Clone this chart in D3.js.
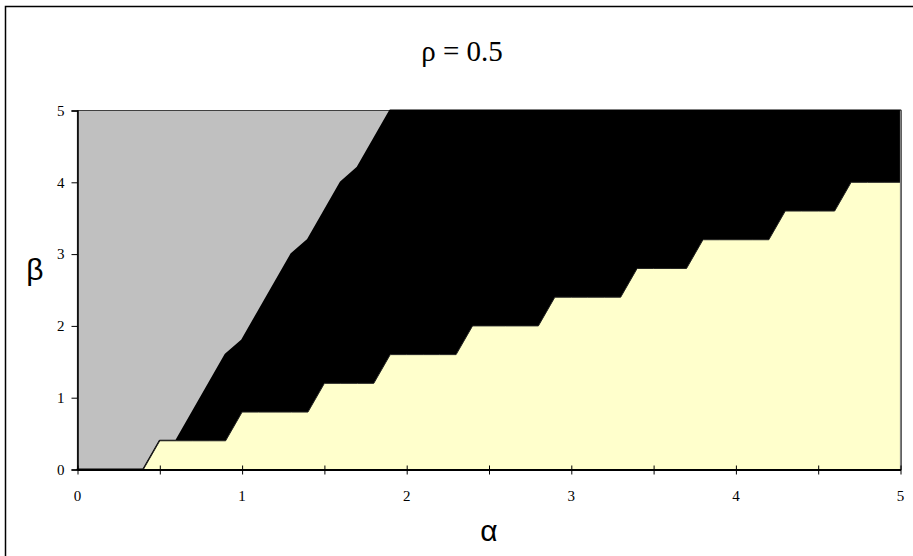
<!DOCTYPE html>
<html>
<head>
<meta charset="utf-8">
<script src="https://cdn.jsdelivr.net/npm/d3@7"></script>
<style>
  html, body { margin: 0; padding: 0; background: #fff; }
  svg { display: block; }
  .serif { font-family: "Liberation Serif", "Times New Roman", Times, serif; }
  .sans { font-family: "Liberation Sans", Arial, sans-serif; }
</style>
</head>
<body>
<svg id="chart" width="913" height="556"></svg>
<script>
// ---- data ----
const alphaValues = [0.0,0.1,0.2,0.3,0.4,0.5,0.6,0.7,0.8,0.9,
                     1.0,1.1,1.2,1.3,1.4,1.5,1.6,1.7,1.8,1.9,
                     2.0,2.1,2.2,2.3,2.4,2.5,2.6,2.7,2.8,2.9,
                     3.0,3.1,3.2,3.3,3.4,3.5,3.6,3.7,3.8,3.9,
                     4.0,4.1,4.2,4.3,4.4,4.5,4.6,4.7,4.8,4.9,5.0];
const greyValues = [5,5,5,5,5,5,5,5,5,5,
                    5,5,5,5,5,5,5,5,5,5,
                    5,5,5,5,5,5,5,5,5,5,
                    5,5,5,5,5,5,5,5,5,5,
                    5,5,5,5,5,5,5,5,5,5,5];
const blackValues = [0,0,0,0,0,0.4,0.4,0.8,1.2,1.6,
                     1.8,2.2,2.6,3.0,3.2,3.6,4.0,4.2,4.6,5,
                     5,5,5,5,5,5,5,5,5,5,
                     5,5,5,5,5,5,5,5,5,5,
                     5,5,5,5,5,5,5,5,5,5,5];
const yellowValues = [0,0,0,0,0,0.4,0.4,0.4,0.4,0.4,
                      0.8,0.8,0.8,0.8,0.8,1.2,1.2,1.2,1.2,1.6,
                      1.6,1.6,1.6,1.6,2.0,2.0,2.0,2.0,2.0,2.4,
                      2.4,2.4,2.4,2.4,2.8,2.8,2.8,2.8,3.2,3.2,
                      3.2,3.2,3.2,3.6,3.6,3.6,3.6,4.0,4.0,4.0,4.0];
const xTickValues = [0,0.5,1,1.5,2,2.5,3,3.5,4,4.5,5];
const xTickLabels = [0,1,2,3,4,5];
const yTickLabels = [0,1,2,3,4,5];
const titleText = "ρ = 0.5";
const xTitle = "α";
const yTitle = "β";

// ---- layout ----
const svg = d3.select("#chart");
const pLeft = 77.5, pRight = 900.5, pTop = 110.5, pBottom = 469.5;
const x = d3.scaleLinear().domain([0,5]).range([pLeft, pRight]);
const y = d3.scaleLinear().domain([0,5]).range([pBottom, pTop]);

// chart border
svg.append("rect").attr("x",5.5).attr("y",6.5).attr("width",920).attr("height",560)
  .attr("fill","#fff").attr("stroke","#000").attr("stroke-width",1.5);

const area = vals => d3.area()
  .x((d,i) => x(alphaValues[i]))
  .y0(y(0))
  .y1(d => y(d))(vals);

svg.append("path").attr("d", area(greyValues))
  .attr("fill","#c0c0c0").attr("stroke","#404040").attr("stroke-width",1.2);
svg.append("path").attr("d", area(blackValues))
  .attr("fill","#000").attr("stroke","#000").attr("stroke-width",2.2).attr("stroke-linejoin","round");
svg.append("path").attr("d", area(yellowValues))
  .attr("fill","#ffffcc").attr("stroke","#222").attr("stroke-width",1);

// plot frame right side
svg.append("line").attr("x1",pRight).attr("x2",pRight).attr("y1",pTop).attr("y2",pBottom)
  .attr("stroke","#808080").attr("stroke-width",1.2);

// axes
const xAxis = d3.axisBottom(x).tickValues(xTickValues).tickSize(0).tickFormat("");
const gx = svg.append("g").attr("transform",`translate(0,${pBottom})`).call(xAxis);
gx.select(".domain").attr("stroke","#000").attr("stroke-width",2);
gx.selectAll(".tick").append("line").attr("y1",-4).attr("y2",5).attr("stroke","#000").attr("stroke-width",1);

svg.append("g").selectAll("text").data(xTickLabels).join("text")
  .attr("class","serif")
  .attr("x", d => x(d)).attr("y", 501)
  .attr("text-anchor","middle")
  .style("font-size","15px")
  .text(d => d);

const yAxis = d3.axisLeft(y).tickValues(yTickLabels).tickFormat(d3.format("d")).tickSize(6).tickPadding(7);
const gy = svg.append("g").attr("transform",`translate(${pLeft},0)`).call(yAxis)
  .attr("font-family", null).attr("font-size", null);
gy.select(".domain").attr("stroke","#000").attr("stroke-width",1.5);
gy.selectAll(".tick line").attr("stroke","#000");
gy.selectAll(".tick text").attr("class","serif").style("font-size","15px").attr("fill","#000");

// titles
svg.append("text").attr("class","serif").attr("x",462).attr("y",61).attr("text-anchor","middle")
  .style("font-size","29px").text(titleText);
svg.append("text").attr("class","sans").attr("x",(pLeft+pRight)/2).attr("y",541).attr("text-anchor","middle")
  .style("font-size","30px").text(xTitle);
svg.append("text").attr("class","sans").attr("x",35).attr("y",280).attr("text-anchor","middle")
  .style("font-size","30px").text(yTitle);
</script>
</body>
</html>
